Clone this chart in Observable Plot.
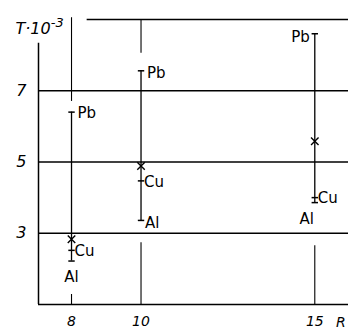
<!DOCTYPE html>
<html><head><meta charset="utf-8">
<script src="https://cdn.jsdelivr.net/npm/d3@7"></script>
<script src="https://cdn.jsdelivr.net/npm/@observablehq/plot@0.6"></script>
<style>
body{margin:0;background:#fff;}
svg text{font-family:"DejaVu Sans",sans-serif;}
.ital text, text.ital{font-style:italic;}
</style></head><body><div id="chart"></div>
<script>
// Data (T·10^-3 vs R)
const R = [8, 10, 15];
const Al = [2.22, 3.36, 3.86];
const Cu = [2.52, 4.47, 4.0];
const Pb = [6.4, 7.56, 8.6];
const mean = [2.83, 4.89, 5.58];
const yTicks = [3, 5, 7];
const xTicks = [8, 10, 15];
// guide segments above/below bars (R, from, to in T units)
const guideR = [8, 10, 8, 10, 15];
const guideFrom = [6.7, 8.05, 1, 1, 1];
const guideTo = [9.05, 9, 1.28, 2.73, 2.65];

const bars = R.map((r, i) => ({R: r, Al: Al[i], Cu: Cu[i], Pb: Pb[i], mean: mean[i]}));
const guides = guideR.map((r, i) => ({R: r, y1: guideFrom[i], y2: guideTo[i]}));
const caps = bars.flatMap(d => [{R: d.R, v: d.Al}, {R: d.R, v: d.Cu}, {R: d.R, v: d.Pb}]);

const capSymbol = {draw(ctx, size) { const r = Math.sqrt(size / Math.PI); ctx.moveTo(-r, 0); ctx.lineTo(r, 0); }};

const xmin = 7.05, xmax = 15.97;
const chart = Plot.plot({
  width: 348, height: 335,
  marginLeft: 38, marginRight: 0, marginTop: 19, marginBottom: 31,
  x: {domain: [xmin, xmax]},
  y: {domain: [1, 9]},
  style: {background: "#fff", color: "#000"},
  marks: [
    Plot.ruleY(yTicks, {x1: xmin, x2: xmax, stroke: "#000", strokeWidth: 1.3}),
    Plot.ruleY([9], {x1: 8.45, x2: xmax, stroke: "#000", strokeWidth: 1.3}),
    Plot.ruleY([1], {x1: xmin, x2: xmax, stroke: "#000", strokeWidth: 1.5}),
    Plot.ruleX([xmin], {y1: 1, y2: 8.33, stroke: "#000", strokeWidth: 1.5}),
    Plot.ruleX(guides, {x: "R", y1: "y1", y2: "y2", stroke: "#000", strokeWidth: 1.1}),
    Plot.ruleX(bars, {x: "R", y1: "Al", y2: "Pb", stroke: "#000", strokeWidth: 1.3}),
    Plot.dot(caps, {x: "R", y: "v", symbol: capSymbol, r: 3.2, stroke: "#000", strokeWidth: 1.5}),
    Plot.dot(bars, {x: "R", y: "mean", symbol: "times", r: 3.5, stroke: "#000", strokeWidth: 1.4}),
    // labels
    Plot.text(bars.filter(d => d.R === 8), {x: "R", y: "Pb", text: () => "Pb", textAnchor: "start", dx: 6, dy: 1, fontSize: 15}),
    Plot.text(bars.filter(d => d.R === 10), {x: "R", y: "Pb", text: () => "Pb", textAnchor: "start", dx: 6, dy: 2, fontSize: 15}),
    Plot.text(bars.filter(d => d.R === 15), {x: "R", y: "Pb", text: () => "Pb", textAnchor: "end", dx: -5, dy: 3, fontSize: 15}),
    Plot.text(bars, {x: "R", y: "Cu", text: () => "Cu", textAnchor: "start", dx: 3, dy: 1, fontSize: 15}),
    Plot.text(bars.filter(d => d.R === 8), {x: "R", y: "Al", text: () => "Al", textAnchor: "middle", dx: 0, dy: 16, fontSize: 15}),
    Plot.text(bars.filter(d => d.R === 10), {x: "R", y: "Al", text: () => "Al", textAnchor: "start", dx: 4, dy: 3, fontSize: 15}),
    Plot.text(bars.filter(d => d.R === 15), {x: "R", y: "Al", text: () => "Al", textAnchor: "middle", dx: -8, dy: 17, fontSize: 15}),
    Plot.axisY(yTicks, {tickSize: 0, tickPadding: 12, fontSize: 16, fontStyle: "italic", label: null, className: "ital"}),
    Plot.axisX(xTicks, {tickSize: 0, tickPadding: 12, fontSize: 14, fontStyle: "italic", label: null, className: "ital"}),
    Plot.text(["R"], {x: 15.75, y: 1, dy: 18, fontSize: 14, fontStyle: "italic"}),
    Plot.text(["T·10"], {frameAnchor: "top-left", dx: -23, dy: 3, textAnchor: "start", fontSize: 16, fontStyle: "italic", className: "ylab"})
  ]
});
document.getElementById("chart").appendChild(chart);
// add the superscript exponent to the y label
const lab = chart.querySelector(".ylab text");
if (lab) {
  const sup = document.createElementNS("http://www.w3.org/2000/svg", "tspan");
  sup.setAttribute("dy", "-7");
  sup.setAttribute("font-size", "13");
  sup.textContent = "-3";
  lab.appendChild(sup);
}
</script></body></html>
